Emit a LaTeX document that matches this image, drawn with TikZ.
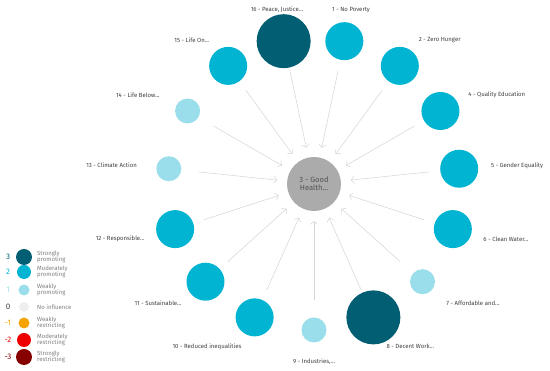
\documentclass[tikz,border=0pt]{standalone}
\usepackage{fontspec}
\setmainfont{Fira Sans}
\usetikzlibrary{arrows.meta,calc}
\definecolor{strong}{HTML}{025E72}
\definecolor{moderate}{HTML}{00B4D2}
\definecolor{weak}{HTML}{99DEEA}
\definecolor{neutral}{HTML}{EEEEEE}
\definecolor{wrestr}{HTML}{F5A300}
\definecolor{mrestr}{HTML}{EE0000}
\definecolor{srestr}{HTML}{870000}
\definecolor{hub}{HTML}{ABABAB}
\definecolor{linkgray}{HTML}{D6D6D6}
\definecolor{labtext}{HTML}{3F3F3F}
\definecolor{keytext}{HTML}{7F7F7F}
\newcommand{\lbldots}{...}
\tikzset{
  goal/.style={
    shape = circle,
    inner sep = 0pt
  },
  goal3/.style={goal, fill=strong, minimum size=54pt},
  goal2/.style={goal, fill=moderate, minimum size=38pt},
  goal1/.style={goal, fill=weak, minimum size=25pt},
  hubgoal/.style={
    goal,
    fill = hub,
    minimum size = 54pt,
    align = center,
    text = labtext!90,
    font = \fontsize{7.6}{8.4}\selectfont
  },
  link/.style={
    draw = linkgray,
    line width = 0.55pt,
    -{Straight Barb[length=3pt,width=7pt]},
    shorten <= 30pt,
    shorten >= 37pt
  },
  goallabel/.style={
    text = labtext,
    inner sep = 0pt,
    font = \fontsize{6}{7}\selectfont
  },
  keynum/.style={inner sep=0pt, font=\fontsize{8}{9}\selectfont},
  keydot/.style={goal},
  keylabel/.style={
    text = keytext,
    inner sep = 0pt,
    align = left,
    anchor = west,
    font = \fontsize{6}{6.6}\selectfont
  }
}
\begin{document}
\begin{tikzpicture}[x=1pt,y=1pt]
  \useasboundingbox (0,0) rectangle (550,371);
  \node[hubgoal] (g3) at (314,187) {3 - Good\\Health\lbldots};
  \foreach \n/\a/\s/\an/\t in {1/78/2/center/{1 - No Poverty},
      2/54/2/west/{2 - Zero Hunger},
      4/30/2/west/{4 - Quality Education},
      5/6/2/west/{5 - Gender Equality},
      6/-18/2/west/{6 - Clean Water\lbldots},
      7/-42/1/west/{7 - Affordable and\lbldots},
      8/-66/3/west/{8 - Decent Work\lbldots},
      9/-90/1/center/{9 - Industries,\lbldots},
      10/-114/2/east/{10 - Reduced inequalities},
      11/-138/2/east/{11 - Sustainable\lbldots},
      12/-162/2/east/{12 - Responsible\lbldots},
      13/174/1/east/{13 - Climate Action},
      14/150/1/east/{14 - Life Below\lbldots},
      15/126/2/east/{15 - Life On\lbldots},
      16/102/3/center/{16 - Peace, Justice\lbldots}}{
    \node[goal\s] (g\n) at ($(g3.center)+(\a:146)$) {};
    \node[goallabel, anchor=\an] (l\n) at ($(g3.center)+(\a:178)$) {\t};
    \draw[link] (g\n.center) -- (g3.center);
  }
  % legend
  \foreach \k/\y/\c/\d/\txt in {3/114/strong/16/Strongly\\promoting,
      2/99/moderate/14/Moderately\\promoting,
      1/81/weak/11/Weakly\\promoting,
      0/64/neutral/10/No influence,
      -1/48/wrestr/11/Weakly\\restricting,
      -2/31/mrestr/14/Moderately\\restricting,
      -3/14/srestr/16/Strongly\\restricting}{
    \node[keynum, text=\c] (kn\k) at (8,\y) {\k};
    \node[keydot, fill=\c, minimum size=\d pt] (kd\k) at (24,\y) {};
    \node[keylabel] (kl\k) at (37,\y) {\txt};
  }
  \node[keynum, text=black!75, fill=white] at (kn0) {0};
\end{tikzpicture}
\end{document}
